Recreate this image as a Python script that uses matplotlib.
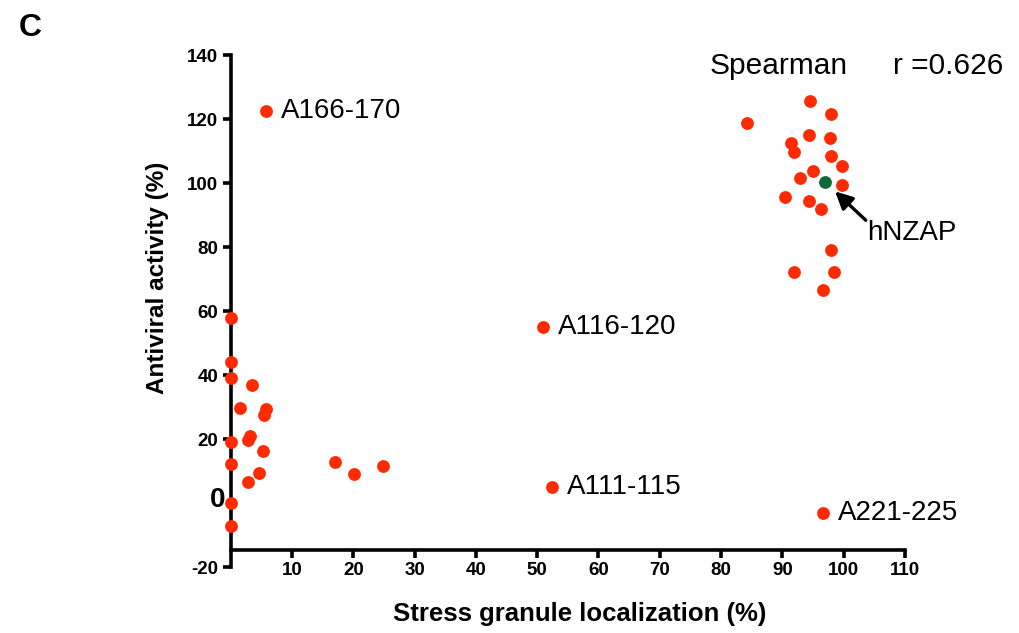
import matplotlib.pyplot as plt
import numpy as np

plt.rcParams['font.family'] = ['Liberation Sans', 'DejaVu Sans']
plt.rcParams['axes.unicode_minus'] = False

# stress granule localization (%) vs antiviral activity (%)
sg = [0.0, 0.0, 0.0, 3.4, 1.5, 5.8, 5.5, 3.1, 2.8, 0.0, 5.2, 0.0, 4.6, 2.9, 0.0, 0.0,
      17.0, 20.1, 24.9,
      5.8, 51.0, 52.4, 96.6,
      94.5, 97.9, 84.3, 94.3, 97.7, 91.4, 91.9, 98.0, 99.7, 95.0, 92.9, 99.7,
      90.5, 94.3, 96.3, 98.0, 91.9, 98.4, 96.7]
av = [57.7, 44.0, 39.0, 37.0, 29.6, 29.3, 27.5, 21.0, 19.7, 19.2, 16.3, 12.1, 9.5, 6.7, 0.0, -7.2,
      12.8, 9.1, 11.6,
      122.5, 55.0, 5.0, -3.1,
      125.7, 121.7, 118.8, 114.9, 114.1, 112.4, 109.6, 108.4, 105.3, 103.8, 101.7, 99.5,
      95.5, 94.4, 91.8, 79.1, 72.2, 72.2, 66.5]
wt_x, wt_y = 97.0, 100.3

labels = ['A166-170', 'A116-120', 'A111-115', 'A221-225']
lab_x = [5.8, 51.0, 52.4, 96.6]
lab_y = [122.5, 55.0, 5.0, -3.1]

fig = plt.figure(figsize=(10.19, 6.33), dpi=100)
ax = fig.add_axes([0.2264, 0.104, 0.6617, 0.809])
ax.scatter(sg, av, s=85, color='#ff2a00', zorder=3, clip_on=False, linewidths=0)
ax.scatter([wt_x], [wt_y], s=85, color='#0a6a3a', zorder=4, clip_on=False, linewidths=0)

for t, x, y in zip(labels, lab_x, lab_y):
    ax.text(x + 2.4, y, t, fontsize=20, va='center', ha='left')

ax.text(111.1, 84.4, 'hNZAP', fontsize=20, ha='center', va='center')
ax.annotate('', xy=(98.6, 97.4), xytext=(103.6, 88.4),
            arrowprops=dict(arrowstyle='-|>', color='black', lw=2.4, mutation_scale=26,
                            shrinkA=0, shrinkB=0))

ax.text(78.2, 136.5, 'Spearman', fontsize=21.5, ha='left', va='center')
ax.text(108.0, 136.5, 'r =0.626', fontsize=21.5, ha='left', va='center')

ax.set_xlim(0, 110)
ax.set_ylim(-20, 140)
ax.set_xticks(np.arange(10, 111, 10))
ax.set_yticks([-20, 20, 40, 60, 80, 100, 120, 140])
for s in ['top', 'right']:
    ax.spines[s].set_visible(False)
ax.spines['bottom'].set_position(('data', -14.5))
ax.spines['bottom'].set_linewidth(2.6)
ax.spines['left'].set_linewidth(2.6)
ax.tick_params(width=2.6, length=6, labelsize=13.5, pad=3)
for lab in ax.get_xticklabels() + ax.get_yticklabels():
    lab.set_fontweight('bold')
ax.text(-0.9, 1.0, '0', fontsize=20, fontweight='bold', ha='right', va='center')

ax.set_xlabel('Stress granule localization (%)', fontsize=18.5, fontweight='bold')
ax.set_ylabel('Antiviral activity (%)', fontsize=17.5, fontweight='bold')
ax.xaxis.set_label_coords(0.518, -0.068)
ax.yaxis.set_label_coords(-0.092, 0.566)

fig.text(0.018, 0.956, 'C', fontsize=23, fontweight='bold', va='center')

fig.savefig('out.png', dpi=100)
